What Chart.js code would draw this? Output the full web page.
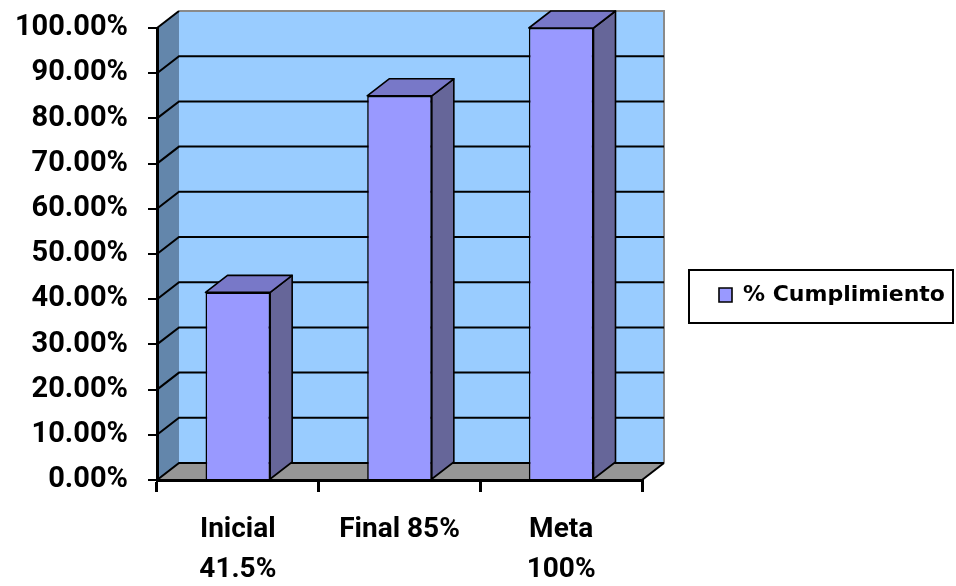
<!DOCTYPE html>
<html>
<head>
<meta charset="utf-8">
<script src="https://cdn.jsdelivr.net/npm/chart.js@4.4.1/dist/chart.umd.min.js"></script>
<style>
  html, body { margin: 0; padding: 0; background: #ffffff; }
  canvas { display: block; }
</style>
</head>
<body>
<canvas id="c" width="956" height="586"></canvas>
<script>
// ---- data ----
const categories = [['Inicial', '41.5%'], ['Final 85%'], ['Meta', '100%']];
const seriesName = '% Cumplimiento';
const cumplimiento = [41.5, 85, 100];
const yMin = 0;
const yMax = 100;
const yStep = 10;

// ---- styles ----
const DX = 22, DY = -17;
const AREA = { left: 157, top: 28, right: 642, bottom: 480 };
const COLORS = {
  wall: '#99ccff',
  sideWall: '#6386ab',
  floor: '#969696',
  barFront: '#9999ff',
  barSide: '#666699',
  barTop: '#7878c8'
};
const tickFont = { family: 'Roboto, "Liberation Sans", Arial, sans-serif', weight: 'bold' };

const scene3d = {
  id: 'scene3d',
  beforeLayout(chart) {
    const lg = chart.legend;
    if (lg && !lg._patched) {
      const orig = lg.fit;
      lg.fit = function () { orig.call(this); this.width = 956 - AREA.right; };
      lg._patched = true;
    }
  },
  afterLayout(chart) {
    const lg = chart.legend;
    if (lg) { lg.left = 706; lg.right = 956; lg.top = 271; lg.bottom = 330; }
  },
  beforeDraw(chart) {
    const ctx = chart.ctx;
    const y = chart.scales.y;
    const L = chart.chartArea.left, R = chart.chartArea.right;
    const T = y.getPixelForValue(yMax), B = y.getPixelForValue(yMin);
    ctx.save();
    ctx.fillStyle = '#ffffff';
    ctx.fillRect(0, 0, chart.width, chart.height);
    // back wall
    ctx.fillStyle = COLORS.wall;
    ctx.fillRect(L + DX, T + DY, R - L, B - T);
    // side wall
    ctx.fillStyle = COLORS.sideWall;
    ctx.beginPath();
    ctx.moveTo(L, T); ctx.lineTo(L + DX, T + DY); ctx.lineTo(L + DX, B + DY); ctx.lineTo(L, B);
    ctx.closePath(); ctx.fill();
    // floor
    ctx.fillStyle = COLORS.floor;
    ctx.beginPath();
    ctx.moveTo(L, B); ctx.lineTo(R, B); ctx.lineTo(R + DX, B + DY); ctx.lineTo(L + DX, B + DY);
    ctx.closePath(); ctx.fill();
    // wall outline (top / right) in gray
    ctx.strokeStyle = '#8a8a8a';
    ctx.lineWidth = 2;
    ctx.beginPath();
    ctx.moveTo(L + DX, T + DY); ctx.lineTo(R + DX, T + DY); ctx.lineTo(R + DX, B + DY);
    ctx.stroke();
    // gridlines
    ctx.strokeStyle = '#000000';
    ctx.lineWidth = 2;
    for (let v = yMin; v <= yMax; v += yStep) {
      const py = y.getPixelForValue(v);
      ctx.beginPath();
      ctx.moveTo(L, py); ctx.lineTo(L + DX, py + DY);
      if (v < yMax) ctx.lineTo(R + DX, py + DY);
      ctx.stroke();
    }
    // floor right edge
    ctx.beginPath();
    ctx.moveTo(R, B); ctx.lineTo(R + DX, B + DY);
    ctx.stroke();
    ctx.restore();
  },
  afterDatasetsDraw(chart) {
    const ctx = chart.ctx;
    const meta = chart.getDatasetMeta(0);
    ctx.save();
    ctx.strokeStyle = '#000000';
    ctx.lineWidth = 1.6;
    ctx.lineJoin = 'round';
    meta.data.forEach((bar) => {
      const p = bar.getProps(['x', 'y', 'base', 'width'], true);
      const l = p.x - p.width / 2, r = p.x + p.width / 2, t = p.y, b = p.base;
      // side
      ctx.fillStyle = COLORS.barSide;
      ctx.beginPath();
      ctx.moveTo(r, t); ctx.lineTo(r + DX, t + DY); ctx.lineTo(r + DX, b + DY); ctx.lineTo(r, b);
      ctx.closePath(); ctx.fill(); ctx.stroke();
      // top
      ctx.fillStyle = COLORS.barTop;
      ctx.beginPath();
      ctx.moveTo(l, t); ctx.lineTo(l + DX, t + DY); ctx.lineTo(r + DX, t + DY); ctx.lineTo(r, t);
      ctx.closePath(); ctx.fill(); ctx.stroke();
    });
    ctx.restore();
  },
  afterDraw(chart) {
    const ctx = chart.ctx;
    ctx.save();
    ctx.strokeStyle = '#000000';
    ctx.lineWidth = 2;
    ctx.strokeRect(689, 270, 264, 53);
    ctx.restore();
  }
};

const chart = new Chart(document.getElementById('c'), {
  type: 'bar',
  data: {
    labels: categories,
    datasets: [{
      label: seriesName,
      data: cumplimiento,
      backgroundColor: COLORS.barFront,
      borderColor: '#000000',
      borderWidth: 1.6,
      borderSkipped: 'start',
      categoryPercentage: 1,
      barPercentage: 0.4
    }]
  },
  options: {
    responsive: false,
    devicePixelRatio: 1,
    animation: false,
    layout: { padding: { left: 15, top: AREA.top, right: 0, bottom: 0 } },
    plugins: {
      tooltip: { enabled: false },
      legend: {
        position: 'right',
        align: 'start',
        labels: {
          boxWidth: 13,
          boxHeight: 14,
          padding: 13,
          color: '#000000',
          font: { family: '"DejaVu Sans", sans-serif', weight: 'bold', size: 22, lineHeight: 1.2 }
        }
      }
    },
    scales: {
      x: {
        offset: true,
        grid: { offset: true, drawOnChartArea: false, drawTicks: true, tickLength: 12, color: '#000000', lineWidth: 3 },
        border: { display: true, color: '#000000', width: 3, z: 1 },
        ticks: {
          color: '#000000',
          padding: 18,
          maxRotation: 0,
          autoSkip: false,
          font: Object.assign({ size: 28, lineHeight: 1.43 }, tickFont)
        },
        afterFit(s) { s.height = 586 - AREA.bottom; s.paddingLeft = 0; s.paddingRight = 0; }
      },
      y: {
        min: yMin,
        max: yMax,
        grid: { drawOnChartArea: false, drawTicks: true, tickLength: 9, color: '#000000', lineWidth: 2 },
        border: { display: true, color: '#000000', width: 3, z: 1 },
        ticks: {
          stepSize: yStep,
          color: '#000000',
          padding: 20,
          autoSkip: false,
          font: Object.assign({ size: 29 }, tickFont),
          callback: (v) => Number(v).toFixed(2) + '%'
        },
        afterFit(s) { s.width = AREA.left - 15; s.paddingTop = 0; s.paddingBottom = 0; }
      }
    }
  },
  plugins: [scene3d]
});
</script>
</body>
</html>
